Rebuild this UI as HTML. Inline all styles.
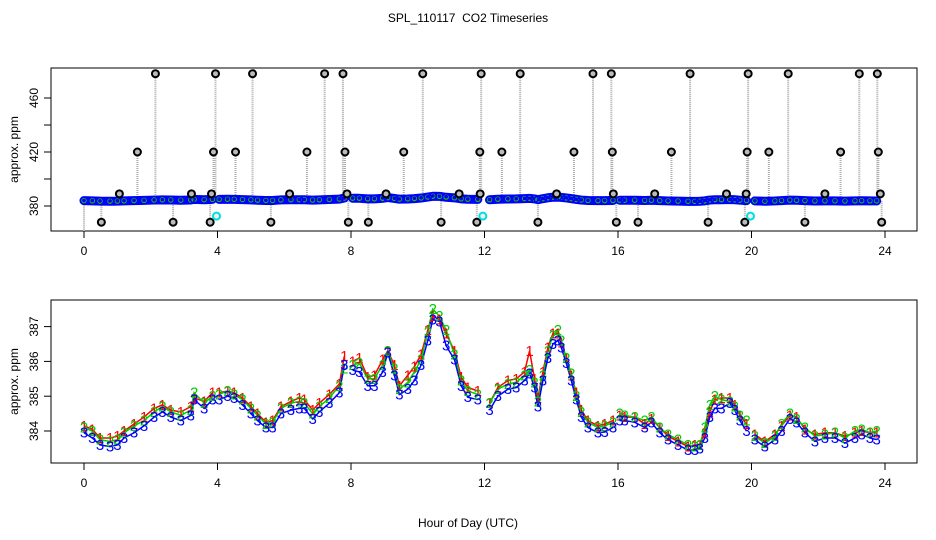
<!DOCTYPE html>
<html><head><meta charset="utf-8"><style>
html,body{margin:0;padding:0;background:#fff;}
svg{display:block;font-family:"Liberation Sans",sans-serif;}
text{white-space:pre;}
</style></head><body>
<svg id="chart" width="936" height="540" viewBox="0 0 936 540" xmlns="http://www.w3.org/2000/svg">
<text x="468" y="22" font-size="12" text-anchor="middle">SPL_110117  CO2 Timeseries</text>
<text x="468" y="527" font-size="12" text-anchor="middle">Hour of Day (UTC)</text>
<g id="topPanel"></g>
<g id="botPanel"></g>
</svg>
<script>
const times = [0,0.25,0.48,0.78,1.0,1.2,1.5,1.8,2.1,2.35,2.6,2.9,3.2,3.3,3.6,3.85,
4.05,4.3,4.5,4.75,5.0,5.2,5.45,5.65,5.9,6.2,6.45,6.6,6.85,7.05,7.35,7.65,7.8,
8.05,8.25,8.5,8.7,8.95,9.1,9.3,9.45,9.7,9.9,10.1,10.3,10.45,10.65,10.85,11.1,11.3,11.5,11.8,
12.15,12.4,12.7,12.95,13.2,13.35,13.5,13.6,13.75,13.9,14.05,14.2,14.3,14.45,14.6,14.75,14.9,15.1,15.4,15.6,15.85,
16.05,16.2,16.5,16.8,17.0,17.25,17.5,17.8,18.1,18.3,18.45,18.6,18.75,18.9,19.1,19.35,19.5,19.65,19.85,
20.1,20.4,20.7,20.9,21.15,21.35,21.6,21.9,22.2,22.5,22.8,23.1,23.3,23.55,23.75];
const series3 = [383.95,383.8,383.6,383.55,383.6,383.8,383.95,384.15,384.4,384.55,384.4,384.3,384.45,384.9,384.65,384.9,
384.9,385.0,384.95,384.75,384.5,384.3,384.1,384.1,384.5,384.6,384.65,384.65,384.35,384.55,384.8,385.1,385.9,
385.75,385.7,385.3,385.3,385.7,386.25,385.6,385.05,385.2,385.45,385.9,386.6,387.2,387.15,386.45,386.05,385.3,384.97,384.9,
384.6,385.0,385.2,385.25,385.45,385.65,385.25,384.7,385.45,386.1,386.5,386.6,386.4,385.95,385.45,384.9,384.4,384.1,383.95,383.97,384.1,
384.3,384.3,384.25,384.1,384.25,383.95,383.75,383.6,383.45,383.45,383.5,383.8,384.4,384.65,384.65,384.8,384.6,384.3,384.0,
383.75,383.55,383.75,384.0,384.35,384.25,383.95,383.7,383.8,383.8,383.65,383.8,383.9,383.8,383.75];
const series1 = [384.15,384.05,383.8,383.8,383.85,384.0,384.2,384.4,384.65,384.75,384.6,384.55,384.7,384.95,384.85,385.1,
385.1,385.15,385.1,384.95,384.7,384.5,384.25,384.3,384.7,384.85,384.95,384.9,384.6,384.8,385.05,385.35,386.15,
386.0,386.1,385.55,385.6,386.05,386.3,385.9,385.3,385.6,385.85,386.2,386.9,387.3,387.2,386.8,386.3,385.55,385.25,385.15,
384.8,385.25,385.45,385.5,385.7,386.3,385.5,384.95,385.7,386.4,386.8,386.8,386.55,386.1,385.6,385.1,384.6,384.3,384.15,384.2,384.3,
384.45,384.4,384.4,384.2,384.35,384.1,383.85,383.7,383.55,383.6,383.6,383.95,384.55,384.9,384.95,384.95,384.75,384.45,384.2,
383.9,383.7,383.9,384.15,384.45,384.4,384.05,383.9,383.95,383.95,383.85,383.95,384.0,383.95,383.95];
const series2 = [384.1,384.0,383.75,383.7,383.75,383.95,384.15,384.3,384.55,384.7,384.55,384.45,384.6,385.1,384.8,385.0,
385.05,385.15,385.05,384.9,384.65,384.45,384.2,384.25,384.65,384.8,384.85,384.8,384.5,384.7,384.95,385.3,385.8,
385.9,385.95,385.5,385.5,385.9,386.3,385.8,385.2,385.4,385.7,386.05,386.85,387.5,387.3,386.9,386.2,385.45,385.15,385.05,
384.8,385.2,385.35,385.4,385.6,385.75,385.4,384.85,385.6,386.3,386.75,386.9,386.6,386.1,385.65,385.0,384.55,384.25,384.1,384.15,384.25,
384.5,384.45,384.4,384.3,384.4,384.1,383.9,383.75,383.6,383.55,383.6,384.1,384.75,385.0,384.9,384.85,384.7,384.45,384.3,
383.85,383.65,383.85,384.2,384.5,384.35,384.1,383.85,383.9,383.95,383.8,384.0,384.05,383.95,384.0];
const spikeTimes = [2.14,3.94,5.05,7.21,7.76,10.15,11.9,13.07,15.25,15.8,18.16,19.9,21.1,23.23,23.77,
1.6,3.88,4.54,6.68,7.82,9.58,11.86,12.52,14.68,15.83,17.6,19.87,20.52,22.67,23.8,
1.06,3.22,3.82,6.16,7.88,9.05,11.24,11.87,14.16,15.86,17.1,19.25,19.84,22.2,23.86,
0.52,2.67,3.78,5.6,7.92,8.52,10.7,11.77,13.6,15.95,16.6,18.7,19.8,21.6,23.9];
const spikeVals = [478,478,478,478,478,478,478,478,478,478,478,478,478,478,478,
420,420,420,420,420,420,420,420,420,420,420,420,420,420,420,
389,389,389,389,389,389,389,389,389,389,389,389,389,389,389,
368,368,368,368,368,368,368,368,368,368,368,368,368,368,368];
const cyanTimes = [3.97,11.95,19.97];
const cyanVals = [372.5,372.5,372.5];
const xTicks = [0,4,8,12,16,20,24];
const topYTicks = [380,400,420,440,460];
const topYLabels = ["380","","420","","460"];
const botYTicks = [384,385,386,387];
const botYLabels = ["384","385","386","387"];
const segmentBreaks = [4,8,12,16,20];

const NS="http://www.w3.org/2000/svg";
function mk(parent,tag,attrs){const e=document.createElementNS(NS,tag);for(const k in attrs)e.setAttribute(k,attrs[k]);parent.appendChild(e);return e;}
const X0=84,X1=885;
function xs(t){return X0+(X1-X0)*t/24;}
function yTop(v){return 206-(v-380)*1.35;}
function yBot(v){return 431-(v-384)*34.8;}
const topG=document.getElementById('topPanel'), botG=document.getElementById('botPanel');
const colors=["#ff0000","#00cc00","#0000ff"];
const seriesList=[series1,series2,series3];

function axes(g,y0,y1,yfun,ticks,labels,name){
  let r=mk(g,'rect',{x:51,y:y0,width:866,height:y1-y0,fill:'none',stroke:'#000','stroke-width':1});
  
  
  xTicks.forEach(t=>{
    let l=mk(g,'line',{x1:xs(t),x2:xs(t),y1:y1,y2:y1+7,stroke:'#000'});
    
    
    let tx=mk(g,'text',{x:xs(t),y:y1+24,'font-size':12,'text-anchor':'middle'});
    tx.textContent=t;
    
    
  });
  ticks.forEach((v,i)=>{
    const y=yfun(v);
    let l=mk(g,'line',{x1:44,x2:51,y1:y,y2:y,stroke:'#000'});
    
    
    if(labels[i]){
      let tx=mk(g,'text',{x:0,y:0,'font-size':12,'text-anchor':'middle',transform:`translate(38,${y}) rotate(-90)`});
      tx.textContent=labels[i];
      
      
    }
  });
  let yt=mk(g,'text',{x:0,y:0,'font-size':12,'text-anchor':'middle',transform:`translate(18,${(y0+y1)/2}) rotate(-90)`});
  yt.textContent='approx. ppm';
  
  
}
axes(topG,68,231,yTop,topYTicks,topYLabels,'top');
axes(botG,300,463,yBot,botYTicks,botYLabels,'bottom');

function segments(){const segs=[];let cur=[0];for(let i=1;i<times.length;i++){if(segmentBreaks.some(b=>times[i-1]<b&&times[i]>=b)){segs.push(cur);cur=[];}cur.push(i);}segs.push(cur);return segs;}
const segs=segments();

spikeTimes.forEach((t,i)=>{
  const x=xs(t);
  let l=mk(topG,'line',{x1:x,x2:x,y1:yTop(spikeVals[i]),y2:yTop(384),stroke:'#aaa','stroke-width':2,'stroke-dasharray':'1,1'});
  
  
});
let base=mk(topG,'line',{x1:xs(0),x2:xs(0),y1:yTop(384),y2:231,stroke:'#aaa','stroke-width':2,'stroke-dasharray':'1,1'});


segs.forEach(s=>{
  let p=mk(topG,'polyline',{points:s.map(i=>xs(times[i])+','+yTop(series3[i])).join(' '),fill:'none',stroke:'#0000ff','stroke-width':9,'stroke-linecap':'round','stroke-linejoin':'round'});
  
  
});
seriesList.forEach((arr,k)=>{
  arr.forEach((v,i)=>{
    let c=mk(topG,'circle',{cx:xs(times[i]),cy:yTop(v),r:k==2?3.5:2.5,fill:'none',stroke:colors[k],'stroke-width':k==2?1.5:1.2});
    
    
  });
});
spikeTimes.forEach((t,i)=>{
  let c=mk(topG,'circle',{cx:xs(t),cy:yTop(spikeVals[i]),r:3.5,fill:'#bbb',stroke:'#000','stroke-width':2});
  
  
});
cyanTimes.forEach((t,i)=>{
  let c=mk(topG,'circle',{cx:xs(t),cy:yTop(cyanVals[i]),r:3.5,fill:'#eee',stroke:'#00dddd','stroke-width':2});
  
  
});

seriesList.forEach((arr,k)=>{
  segs.forEach(s=>{
    let p=mk(botG,'polyline',{points:s.map(i=>xs(times[i])+','+yBot(arr[i])).join(' '),fill:'none',stroke:colors[k],'stroke-width':1.5});
    
    
  });
});
seriesList.forEach((arr,k)=>{
  arr.forEach((v,i)=>{
    let t=mk(botG,'text',{x:xs(times[i]),y:yBot(v)+5,'font-size':15,'text-anchor':'middle',fill:colors[k]});
    t.textContent=String(k+1);
    
    
  });
});
</script>
</body></html>
